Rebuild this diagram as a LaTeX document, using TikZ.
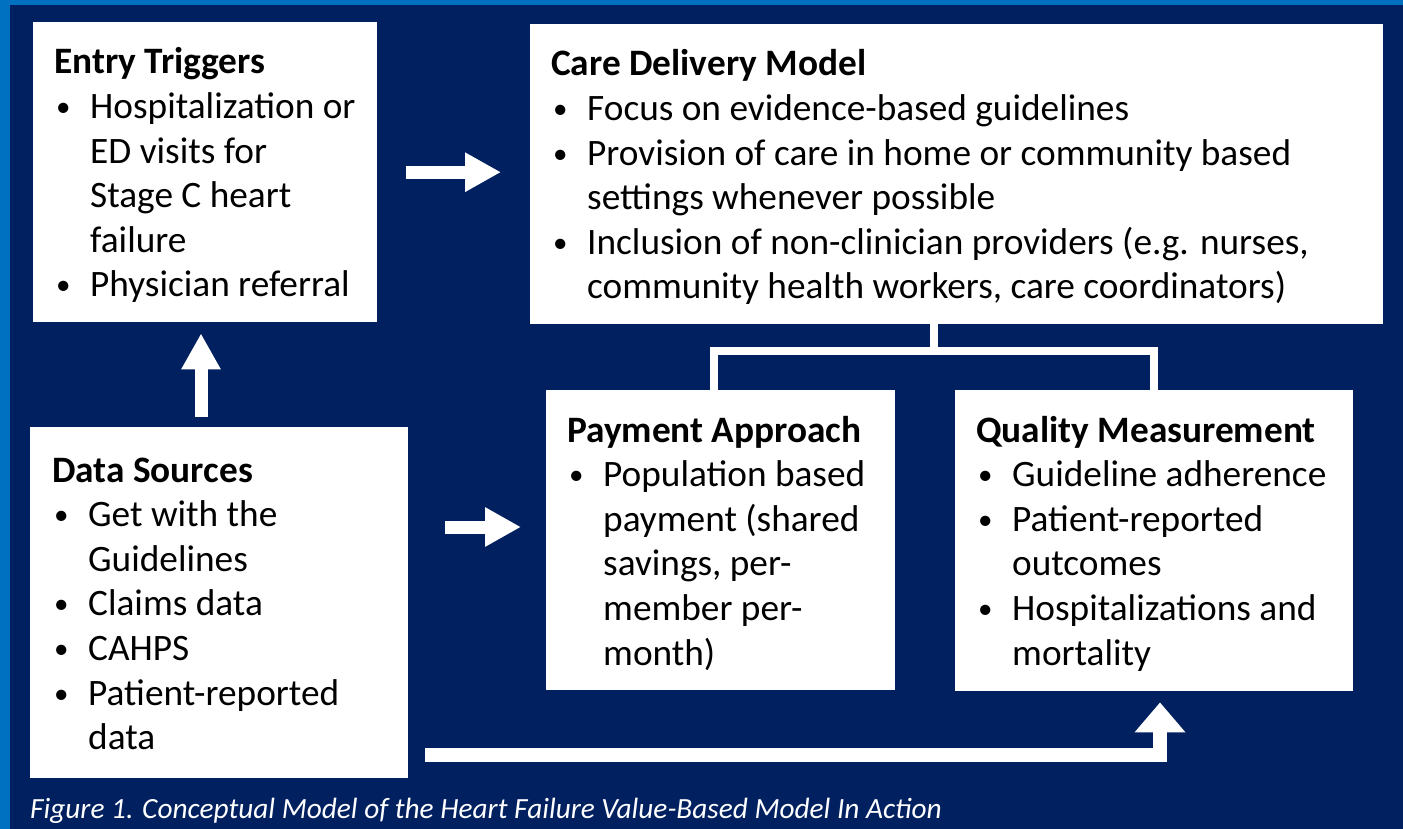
\documentclass[tikz,border=0pt]{standalone}
\usepackage{fontspec}
\setmainfont{Carlito}
\usetikzlibrary{arrows.meta}
\definecolor{navy}{HTML}{002060}
\definecolor{slideblue}{HTML}{0070C0}
% bullet column and bold heading row for the box texts
\newcommand{\bl}{\makebox[36pt][l]{\hspace{2pt}\raisebox{2pt}{\fontsize{29}{29}\selectfont\textbullet}}}
\newcommand{\hd}[1]{\multicolumn{2}{@{}l@{}}{\textbf{#1}}}
\begin{document}
\begin{tikzpicture}[x=1pt,y=-1pt,
  panel/.style={fill=white, draw=none, inner sep=0pt, anchor=north west},
  body/.style={anchor=base west, inner sep=0pt, text=black,
    font=\fontsize{37.3}{44.6}\selectfont},
  link/.style={draw=white, line width=8pt},
  blockarrow/.style={draw=white, line width=13pt,
    -{Triangle[width=37pt,length=36pt]}},
]
% slide background
\useasboundingbox (0,0) rectangle (1403,829);
\fill[slideblue] (0,0) rectangle (1403,829);
\fill[navy] (10,5) rectangle (1403,829);

% boxes
\node[panel, minimum width=344pt, minimum height=300pt] (entry) at (33,22) {};
\node[panel, minimum width=853pt, minimum height=300pt] (care) at (530,24) {};
\node[panel, minimum width=378pt, minimum height=351pt] (data) at (30,427) {};
\node[panel, minimum width=349pt, minimum height=300pt] (pay) at (546,390) {};
\node[panel, minimum width=398pt, minimum height=301pt] (qual) at (955,390) {};

% box texts
\node[body] (entrytext) at (54,74) {\begin{tabular}[t]{@{}l@{}l@{}}
\hd{Entry Triggers}\\
\bl & Hospitalization or\\
 & ED visits for\\
 & Stage C heart\\
 & failure\\
\bl & Physician referral
\end{tabular}};

\node[body] (caretext) at (551,76) {\begin{tabular}[t]{@{}l@{}l@{}}
\hd{Care Delivery Model}\\
\bl & Focus on evidence-based guidelines\\
\bl & Provision of care in home or community based\\
 & settings whenever possible\\
\bl & Inclusion of non-clinician providers (e.g. nurses,\\
 & community health workers, care coordinators)
\end{tabular}};

\node[body] (paytext) at (567,442) {\begin{tabular}[t]{@{}l@{}l@{}}
\hd{Payment Approach}\\
\bl & Population based\\
 & payment (shared\\
 & savings, per-\\
 & member per-\\
 & month)
\end{tabular}};

\node[body] (qualtext) at (976,442) {\begin{tabular}[t]{@{}l@{}l@{}}
\hd{Quality Measurement}\\
\bl & Guideline adherence\\
\bl & Patient-reported\\
 & outcomes\\
\bl & Hospitalizations and\\
 & mortality
\end{tabular}};

\node[body] (datatext) at (52,482) {\begin{tabular}[t]{@{}l@{}l@{}}
\hd{Data Sources}\\
\bl & Get with the\\
 & Guidelines\\
\bl & Claims data\\
\bl & CAHPS\\
\bl & Patient-reported\\
 & data
\end{tabular}};

% bracket joining the care model to payment and quality
\coordinate (tl) at (714,351);
\coordinate (tm) at (934,351);
\coordinate (tr) at (1154,351);
\draw[link] (care.south -| tm) -- (tm);
\draw[link, line join=miter] (pay.north -| tl) -- (tl) -- (tr) -- (qual.north -| tr);

% block arrows
\coordinate (upx) at (201,0);
\coordinate (ay) at (0,527);
\coordinate (elbow) at (1160,755);
\draw[blockarrow, shorten <=29pt, shorten >=29pt] (entry.east) -- (entry.east -| care.west);
\draw[blockarrow, shorten <=10pt, shorten >=11pt] (data.north -| upx) -- (entry.south -| upx);
\draw[blockarrow, shorten <=37pt, shorten >=25pt] (data.east |- ay) -- (pay.west |- ay);
\draw[draw=white, line width=14pt, line join=miter, shorten <=17pt, shorten >=11pt,
  -{Triangle[width=49pt,length=30pt]}]
  (data.east |- elbow) -- (elbow) -- (qual.south -| elbow);

% caption
\node[anchor=base west, inner sep=0pt, text=white, font=\fontsize{29.3}{34}\selectfont\itshape]
  (caption) at (30,818) {Figure 1. Conceptual Model of the Heart Failure Value-Based Model In Action};
\end{tikzpicture}
\end{document}
